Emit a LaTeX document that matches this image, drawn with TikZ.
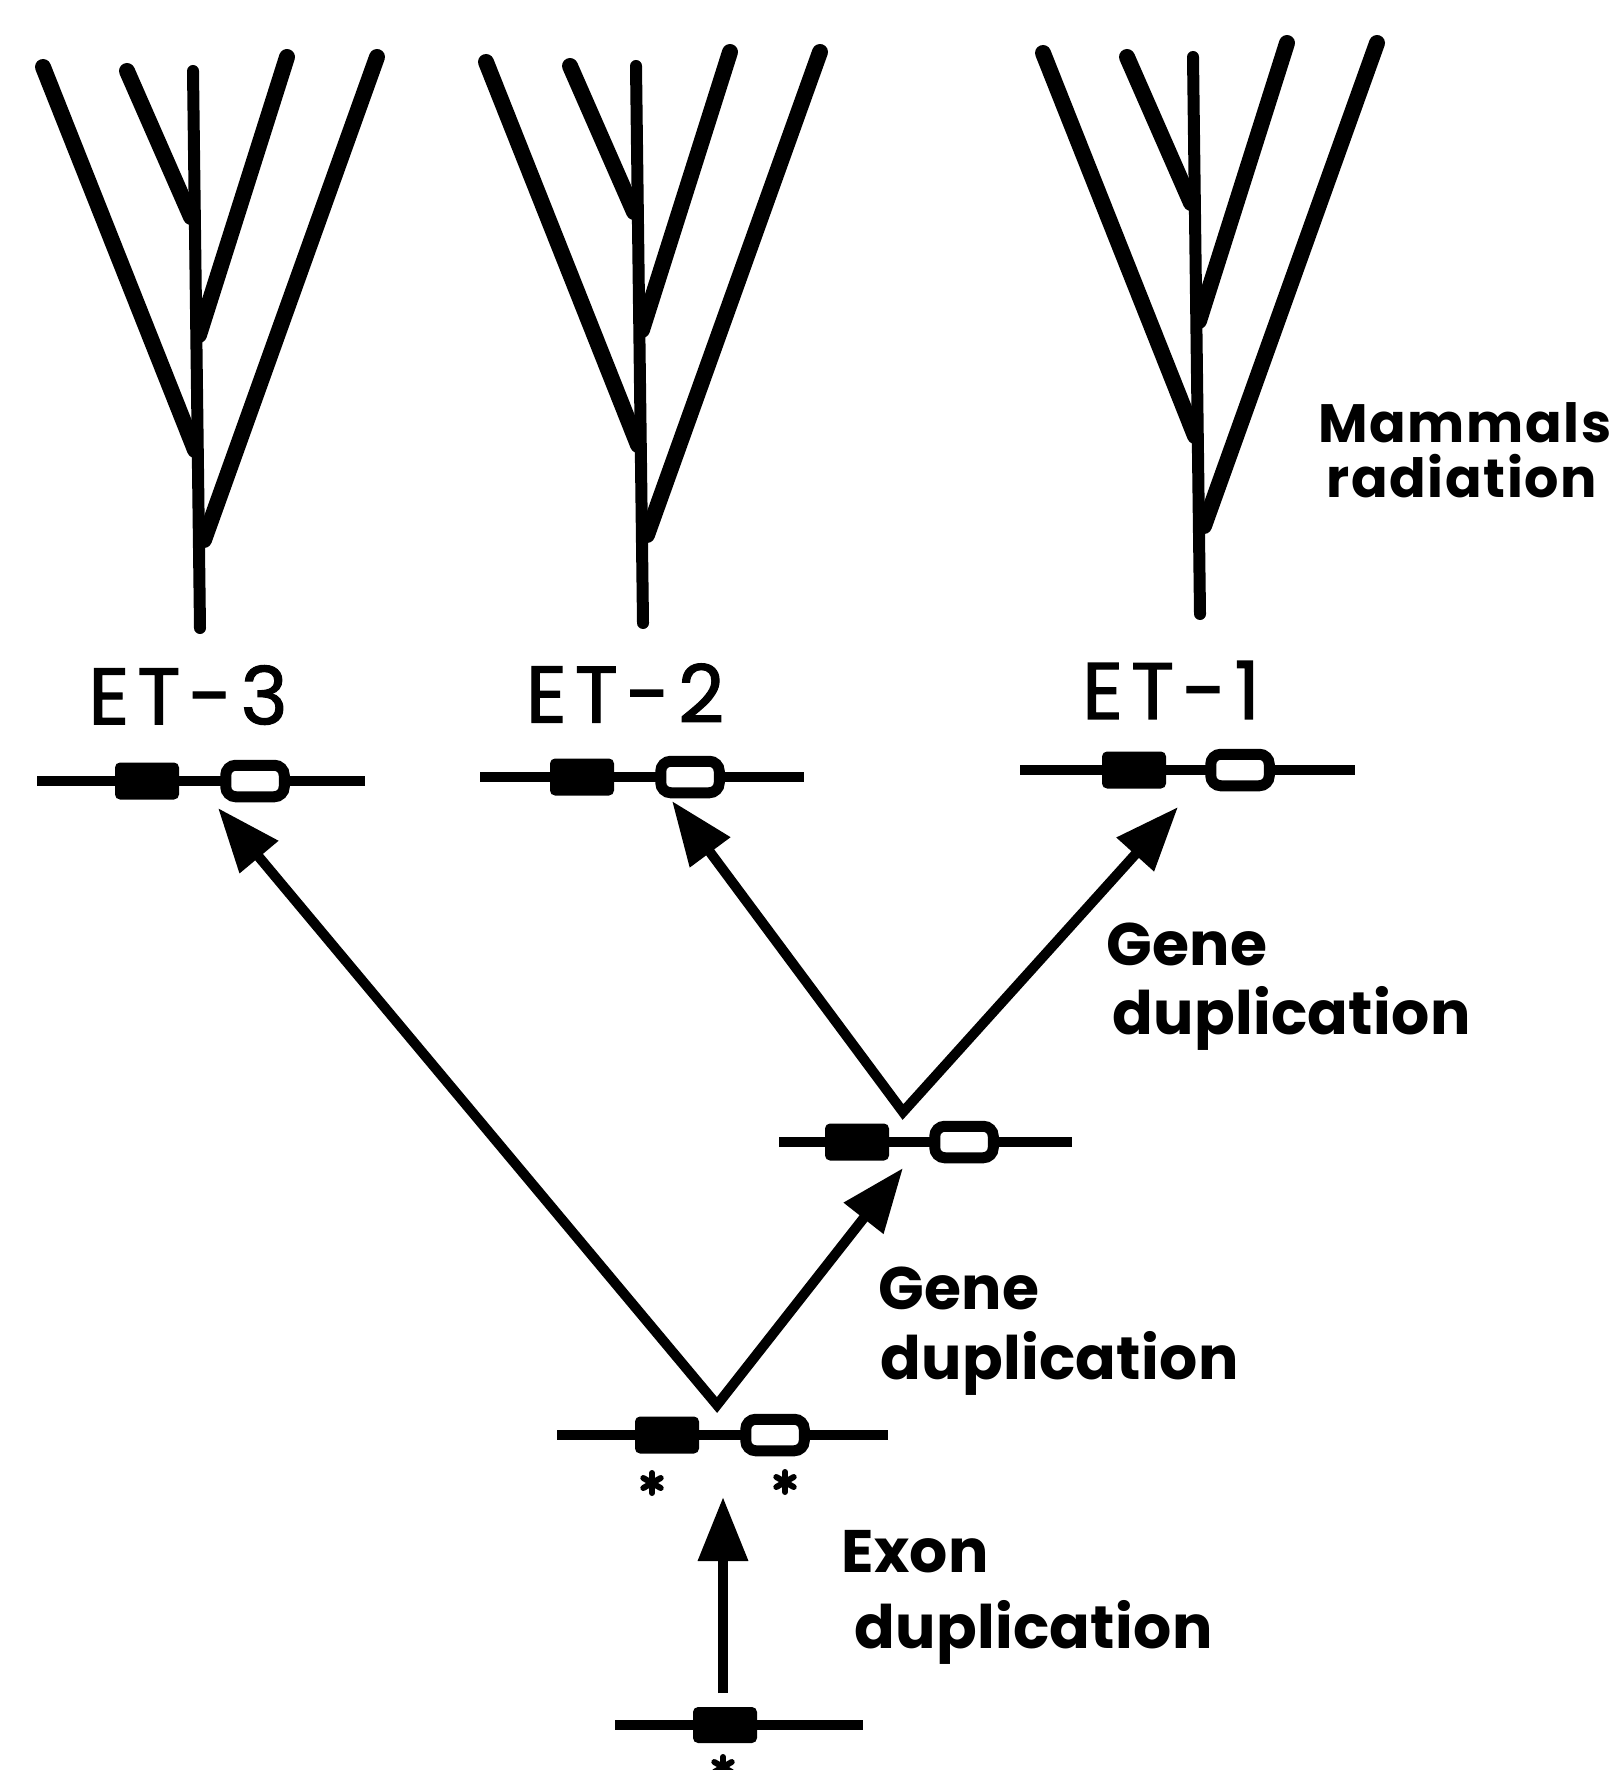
\documentclass[tikz,border=0pt]{standalone}
\usepackage{fontspec}
\setmainfont{Poppins}
\newfontfamily\labfont{Poppins}[LetterSpace=0.5]
\newfontfamily\mamfont{Poppins}[LetterSpace=3]
\newfontfamily\etfont{Poppins}[LetterSpace=10,FakeBold=1.5]
\usetikzlibrary{arrows.meta}
\tikzset{
  branch/.style={line width=8pt, line cap=round},
  trunk/.style={line width=6pt, line cap=round},
  dnaline/.style={line width=5pt},
  exonfill/.style={fill=black, rounded corners=2.5pt},
  exonopen/.style={fill=white, draw=black, line width=5.5pt, rounded corners=5pt},
  arr/.style={line width=5pt, line join=miter, -{Triangle[length=32pt,width=24pt]}},
  darr/.style={line width=5pt, line join=miter, {Triangle[length=32pt,width=24pt]}-{Triangle[length=32pt,width=24pt]}},
  lab/.style={font=\labfont\bfseries\fontsize{30pt}{34pt}\selectfont, anchor=west, inner sep=0pt},
  mamlab/.style={font=\mamfont\bfseries\fontsize{27pt}{31pt}\selectfont, anchor=west, inner sep=0pt},
  etlab/.style={font=\etfont\fontsize{40pt}{44pt}\selectfont, inner sep=0pt},
  star/.style={line width=3pt, line cap=round}
}
\newcommand\mytree[2]{%
  \begin{scope}[shift={(#1,#2)}]
    \draw[trunk] (193,71) -- (200,628);
    \draw[branch] (43,67) -- (195,450);
    \draw[branch] (127,71) -- (191,217);
    \draw[branch] (287,57) -- (199,335);
    \draw[branch] (377,57) -- (204,540);
  \end{scope}}
% \mygene{y}{x1}{x2}{filled left}{open left}
\newcommand\mygene[5]{%
  \draw[dnaline] (#2,#1) -- (#3,#1);
  \path[exonfill] (#4,#1-18.5) rectangle (#4+64,#1+18.5);
  \path[exonopen] (#5+2.75,#1-15.75) rectangle (#5+61.25,#1+15.75);}
\newcommand\myast[2]{%
  \draw[star] (#1,#2-10) -- (#1,#2+10);
  \draw[star] (#1-8.7,#2-5) -- (#1+8.7,#2+5);
  \draw[star] (#1-8.7,#2+5) -- (#1+8.7,#2-5);}
\begin{document}
\begin{tikzpicture}[x=0.5pt,y=-0.5pt]
\useasboundingbox (0,0) rectangle (1623,1770);
\fill[white] (0,0) rectangle (1623,1770);

% trees
\mytree{0}{0}
\mytree{443}{-5}
\mytree{1000}{-14}

% labels
\node[etlab] (et3) at (188,695) {ET-3};
\node[etlab] (et2) at (625,693) {ET-2};
\node[etlab] (et1) at (1171,690) {ET-1};

\node[mamlab] (mam) at (1318,423) {Mammals};
\node[mamlab] (rad) at (1326,476) {radiation};
\node[lab] (gene1) at (1106,944) {Gene};
\node[lab] (dup1) at (1112,1018) {duplication};
\node[lab] (gene2) at (878,1288) {Gene};
\node[lab] (dup2) at (880,1363) {duplication};
\node[lab] (exon) at (841,1552) {Exon};
\node[lab] (dup3) at (854,1632) {duplication};

% genes
\mygene{781}{37}{365}{115}{223}
\mygene{777}{480}{804}{550}{658}
\mygene{770}{1020}{1355}{1102}{1208}
\mygene{1142}{779}{1072}{825}{932}
\mygene{1435}{557}{888}{635}{743}
\draw[dnaline] (615,1725) -- (863,1725);
\path[exonfill] (693,1707) rectangle (757,1743);

% asterisks
\myast{652}{1483}
\myast{785}{1482}
\myast{723}{1767}

% arrows
\coordinate (v1) at (717,1405);
\coordinate (v2) at (903,1112);
\coordinate (t3) at (218,808);
\coordinate (tm) at (903,1168);
\coordinate (t2) at (672,801);
\coordinate (t1) at (1178,807);
\coordinate (b0) at (723,1693);
\coordinate (t0) at (723,1497);
\draw[darr] (t3) -- (v1) -- (tm);
\draw[darr] (t2) -- (v2) -- (t1);
\draw[arr] (b0) -- (t0);
\end{tikzpicture}
\end{document}
